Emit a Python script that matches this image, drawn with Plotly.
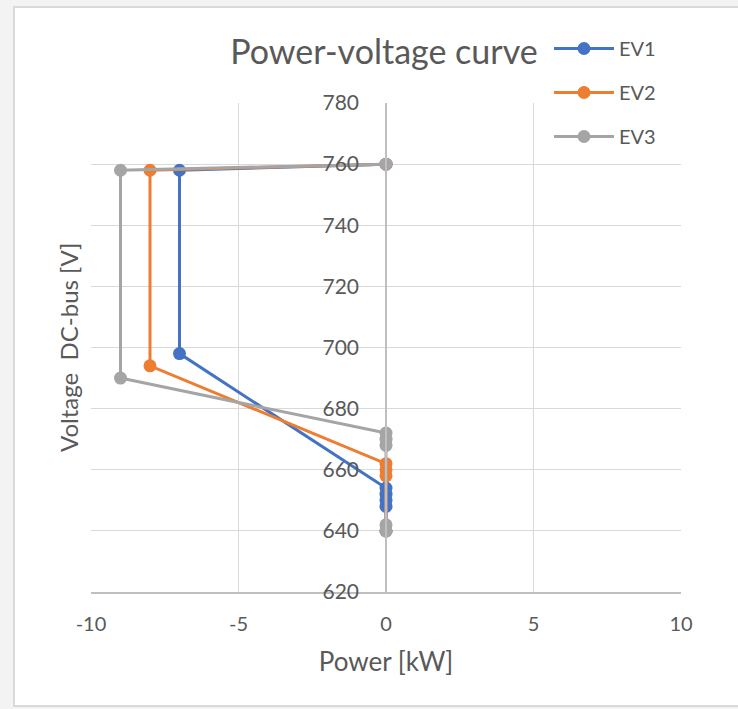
import plotly.graph_objects as go

# Data
series_names = ["EV1", "EV2", "EV3"]
ev1_power = [0, -7, -7, 0, 0, 0, 0, 0]
ev1_voltage = [760, 758, 698, 654, 652, 650, 648, 640]
ev2_power = [0, -8, -8, 0, 0, 0, 0]
ev2_voltage = [760, 758, 694, 662, 660, 658, 640]
ev3_power = [0, -9, -9, 0, 0, 0, 0, 0]
ev3_voltage = [760, 758, 690, 672, 670, 668, 642, 640]

x_ticks = [-10, -5, 0, 5, 10]
x_tick_labels = ["-10", "-5", "0", "5", "10"]
y_ticks = [620, 640, 660, 680, 700, 720, 740, 760, 780]

colors = ["#4472c4", "#ed7d31", "#a5a5a5"]
FONT = "Lato"
TXT = "#595959"

fig = go.Figure()
for name, xs, ys, c in zip(series_names,
                           [ev1_power, ev2_power, ev3_power],
                           [ev1_voltage, ev2_voltage, ev3_voltage],
                           colors):
    fig.add_trace(go.Scatter(
        x=xs, y=ys, name=name, mode="lines+markers",
        line=dict(color=c, width=3),
        marker=dict(color=c, size=13),
        legendgroup=name,
    ))

W, H = 738, 709
ml, mr, mt, mb = 91, 57, 103, 117
pw, ph = W - ml - mr, H - mt - mb

def px_x(p):
    return (p - ml) / pw

def px_y(p):
    return (H - mb - p) / ph

fig.update_layout(
    width=W, height=H,
    margin=dict(l=ml, r=mr, t=mt, b=mb, pad=0),
    paper_bgcolor="#f3f3f3",
    plot_bgcolor="white",
    font=dict(family=FONT, color=TXT),
    title=dict(text="Power-voltage curve", xref="paper", x=px_x(384), xanchor="center",
               y=1 - 52 / H, yanchor="middle",
               font=dict(family=FONT, size=34, color=TXT)),
    showlegend=True,
    legend=dict(x=px_x(549), xanchor="left", y=px_y(29), yanchor="top",
                bgcolor="rgba(0,0,0,0)", font=dict(family=FONT, size=20, color=TXT),
                traceorder="grouped", tracegroupgap=15, itemwidth=60),
    xaxis=dict(range=[-10, 10], tickvals=x_ticks, ticktext=x_tick_labels, showgrid=True,
               gridcolor="#d9d9d9", gridwidth=1, zeroline=False,
               showline=True, linecolor="#bfbfbf", linewidth=1.5,
               ticks="", ticklabelstandoff=13,
               tickfont=dict(family=FONT, size=20, color=TXT),
               title=dict(text="Power [kW]", standoff=19,
                          font=dict(family=FONT, size=26, color=TXT))),
    yaxis=dict(range=[620, 780], tickvals=y_ticks, showgrid=True,
               gridcolor="#d9d9d9", gridwidth=1, zeroline=False,
               anchor="free", position=0.5,
               showline=True, linecolor="#bfbfbf", linewidth=1.5,
               ticks="", ticklabelstandoff=22,
               tickfont=dict(family=FONT, size=21, color=TXT)),
    shapes=[dict(type="rect", xref="paper", yref="paper", layer="below",
                 x0=px_x(14), x1=px_x(760), y0=px_y(706), y1=px_y(7),
                 fillcolor="white", line=dict(color="#d9d9d9", width=2))],
    annotations=[dict(text="Voltage  DC-bus [V]", xref="paper", yref="paper",
                      x=px_x(68), y=px_y(348), textangle=-90, showarrow=False,
                      xanchor="center", yanchor="middle",
                      font=dict(family=FONT, size=24, color=TXT))],
)

fig.write_html("out.html")
